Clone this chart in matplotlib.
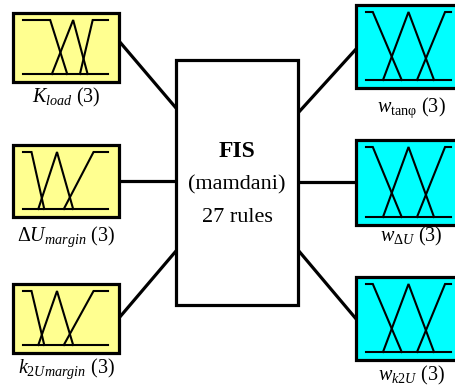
import matplotlib.pyplot as plt
from matplotlib.patches import Rectangle

plt.rcParams['font.family'] = 'Liberation Serif'
plt.rcParams['mathtext.fontset'] = 'custom'
plt.rcParams['mathtext.rm'] = 'Liberation Serif'
plt.rcParams['mathtext.it'] = 'Liberation Serif:italic'
plt.rcParams['mathtext.bf'] = 'Liberation Serif:bold'

# fuzzy variables, each with 3 membership functions on a normalised 0..1 universe
# every MF is a trapezoid (a, b, c, d); triangles have b == c
input_labels = [r'$K_{load}$ (3)', r'$\Delta U_{margin}$ (3)', r'$k_{2Umargin}$ (3)']
input_mfs = [
    [(0.0, 0.0, 0.32, 0.52), (0.34, 0.59, 0.59, 0.76), (0.67, 0.82, 1.0, 1.0)],
    [(0.0, 0.0, 0.10, 0.25), (0.18, 0.40, 0.40, 0.59), (0.48, 0.83, 1.0, 1.0)],
    [(0.0, 0.0, 0.10, 0.25), (0.18, 0.40, 0.40, 0.59), (0.48, 0.83, 1.0, 1.0)],
]
output_labels = [r'$w_{\mathrm{tan\varphi}}$ (3)', r'$w_{\Delta U}$ (3)', r'$w_{k2U}$ (3)']
output_mfs = [
    [(0.0, 0.0, 0.08, 0.42), (0.20, 0.50, 0.50, 0.80), (0.60, 0.93, 1.0, 1.0)],
    [(0.0, 0.0, 0.08, 0.42), (0.20, 0.50, 0.50, 0.80), (0.60, 0.93, 1.0, 1.0)],
    [(0.0, 0.0, 0.08, 0.42), (0.20, 0.50, 0.50, 0.80), (0.60, 0.93, 1.0, 1.0)],
]
fis_lines = ['FIS', '(mamdani)', '27 rules']

# layout in pixel units (y grows downwards)
in_x = (13, 119)
in_y = [(13, 82), (145, 217), (284, 353)]
in_label_y = [102, 241, 373]
out_x = (356, 462)
out_y = [(5, 88), (140, 225), (277, 360)]
out_label_y = [112, 241, 380]
fis_x = (176, 298)
fis_y = (60, 305)
in_ends = [((119, 41), (176, 108)), ((119, 181), (176, 181)), ((119, 318), (176, 251))]
out_ends = [((298, 113), (357, 48)), ((298, 182), (357, 182)), ((298, 250), (357, 320))]

yellow = '#FFFF90'
cyan = '#00FFFF'
lw_box = 2.3
lw_mf = 1.5

fig = plt.figure(figsize=(4.56, 3.90), dpi=100)
ax = fig.add_axes([0, 0, 1, 1])
ax.set_xlim(0, 456)
ax.set_ylim(390, 0)
ax.axis('off')


def mf_box(x0, x1, y0, y1, mfs, color, pad_l=10, pad_r=11):
    ax.add_patch(Rectangle((x0, y0), x1 - x0, y1 - y0, facecolor=color,
                           edgecolor='black', lw=lw_box, zorder=2))
    ux0, ux1 = x0 + pad_l, min(x1 - pad_r, 452)
    top, base = y0 + 7, y1 - 8
    w = ux1 - ux0
    ax.plot([ux0, ux1], [base, base], color='black', lw=lw_mf, zorder=3)
    for a, b, c, d in mfs:
        pts = [(a, base), (b, top), (c, top), (d, base)]
        # shoulders start/end at the top of the universe edge, no vertical side
        if a == b:
            pts = pts[1:]
        if c == d:
            pts = pts[:-1]
        xs = [ux0 + p[0] * w for p in pts]
        ys = [p[1] for p in pts]
        ax.plot(xs, ys, color='black', lw=lw_mf, zorder=3, solid_joinstyle='miter')


for (p0, p1) in in_ends + out_ends:
    ax.plot([p0[0], p1[0]], [p0[1], p1[1]], color='black', lw=lw_box, zorder=1)

for i in range(3):
    mf_box(in_x[0], in_x[1], in_y[i][0], in_y[i][1], input_mfs[i], yellow)
    ax.text((in_x[0] + in_x[1]) / 2, in_label_y[i], input_labels[i],
            ha='center', va='baseline', fontsize=14.5)
    mf_box(out_x[0], out_x[1], out_y[i][0], out_y[i][1], output_mfs[i], cyan)
    ax.text(411, out_label_y[i], output_labels[i],
            ha='center', va='baseline', fontsize=14.5)

ax.add_patch(Rectangle((fis_x[0], fis_y[0]), fis_x[1] - fis_x[0], fis_y[1] - fis_y[0],
                       facecolor='white', edgecolor='black', lw=lw_box, zorder=2))
fis_cx = (fis_x[0] + fis_x[1]) / 2
ax.text(fis_cx, 157, fis_lines[0], ha='center', va='baseline', fontsize=17, fontweight='bold')
ax.text(fis_cx, 189, fis_lines[1], ha='center', va='baseline', fontsize=16)
ax.text(fis_cx, 222, fis_lines[2], ha='center', va='baseline', fontsize=16)

fig.savefig('out.png', dpi=100)
